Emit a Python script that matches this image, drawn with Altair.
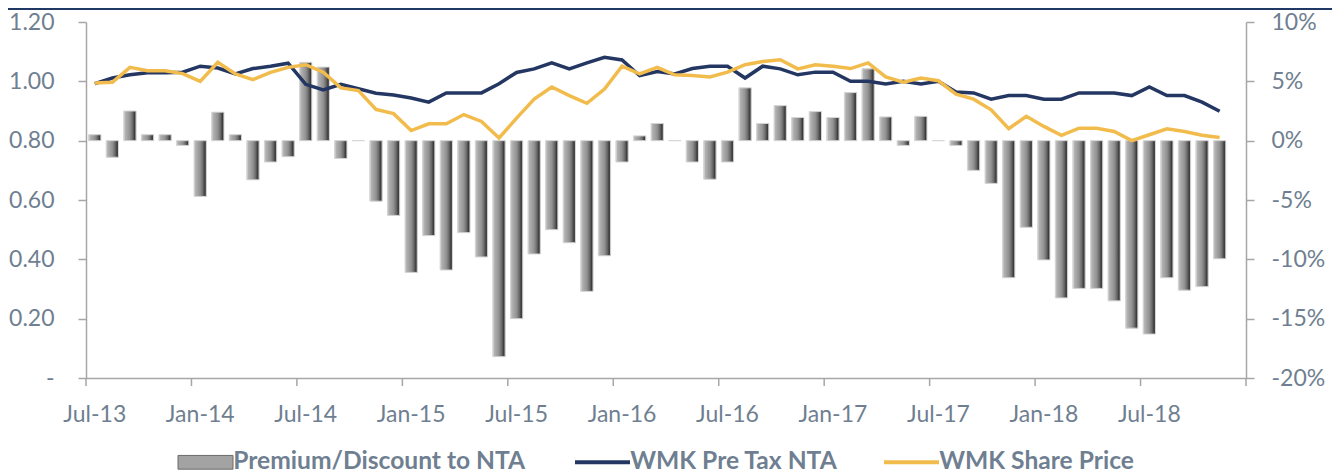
import altair as alt
import pandas as pd

# ---------------- data ----------------
months = [
    "Jul-13", "Aug-13", "Sep-13", "Oct-13", "Nov-13", "Dec-13",
    "Jan-14", "Feb-14", "Mar-14", "Apr-14", "May-14", "Jun-14",
    "Jul-14", "Aug-14", "Sep-14", "Oct-14", "Nov-14", "Dec-14",
    "Jan-15", "Feb-15", "Mar-15", "Apr-15", "May-15", "Jun-15",
    "Jul-15", "Aug-15", "Sep-15", "Oct-15", "Nov-15", "Dec-15",
    "Jan-16", "Feb-16", "Mar-16", "Apr-16", "May-16", "Jun-16",
    "Jul-16", "Aug-16", "Sep-16", "Oct-16", "Nov-16", "Dec-16",
    "Jan-17", "Feb-17", "Mar-17", "Apr-17", "May-17", "Jun-17",
    "Jul-17", "Aug-17", "Sep-17", "Oct-17", "Nov-17", "Dec-17",
    "Jan-18", "Feb-18", "Mar-18", "Apr-18", "May-18", "Jun-18",
    "Jul-18", "Aug-18", "Sep-18", "Oct-18", "Nov-18", "Dec-18",
]
tick_months = ["Jul-13", "Jan-14", "Jul-14", "Jan-15", "Jul-15", "Jan-16",
               "Jul-16", "Jan-17", "Jul-17", "Jan-18", "Jul-18"]
end_month = ["Dec-18"]

premium_pct = [
    0.5, -1.4, 2.5, 0.5, 0.5, -0.4, -4.7, 2.4, 0.5, -3.3,
    -1.8, -1.35, 6.6, 6.2, -1.5, 0.0, -5.1, -6.3, -11.1, -8.0,
    -10.9, -7.75, -9.8, -18.2, -15.0, -9.55, -7.5, -8.6, -12.7, -9.7,
    -1.8, 0.4, 1.45, 0.0, -1.8, -3.25, -1.8, 4.45, 1.45, 2.95,
    1.95, 2.45, 1.95, 4.05, 6.05, 2.0, -0.4, 2.05, 0.0, -0.4,
    -2.5, -3.6, -11.55, -7.3, -10.05, -13.25, -12.45, -12.45, -13.5, -15.8,
    -16.3, -11.55, -12.6, -12.3, -9.95,
]
pre_tax_nta = [
    0.992, 1.011, 1.022, 1.029, 1.029, 1.031, 1.051, 1.045, 1.025, 1.043,
    1.051, 1.061, 0.990, 0.971, 0.990, 0.975, 0.960, 0.954, 0.944, 0.930,
    0.961, 0.961, 0.961, 0.992, 1.030, 1.042, 1.062, 1.042, 1.062, 1.081,
    1.072, 1.019, 1.033, 1.025, 1.043, 1.051, 1.051, 1.011, 1.051, 1.042,
    1.022, 1.031, 1.031, 1.000, 1.000, 0.991, 1.000, 0.991, 1.000, 0.964,
    0.961, 0.940, 0.952, 0.952, 0.940, 0.940, 0.961, 0.961, 0.961, 0.952,
    0.981, 0.952, 0.952, 0.930, 0.899,
]
share_price = [
    0.994, 0.997, 1.047, 1.036, 1.036, 1.026, 1.000, 1.064, 1.025, 1.006,
    1.030, 1.047, 1.056, 1.031, 0.978, 0.969, 0.905, 0.891, 0.834, 0.857,
    0.857, 0.888, 0.865, 0.809, 0.876, 0.940, 0.981, 0.952, 0.926, 0.974,
    1.051, 1.025, 1.047, 1.022, 1.020, 1.015, 1.031, 1.056, 1.067, 1.073,
    1.042, 1.056, 1.051, 1.043, 1.062, 1.015, 0.997, 1.011, 1.002, 0.957,
    0.940, 0.904, 0.840, 0.882, 0.848, 0.818, 0.842, 0.842, 0.831, 0.800,
    0.820, 0.840, 0.831, 0.818, 0.811,
]

bar_name = "Premium/Discount to NTA"
nta_name = "WMK Pre Tax NTA"
price_name = "WMK Share Price"

n = len(premium_pct)
bars_df = pd.DataFrame({
    "month": months[:n],
    "premium": [p / 100.0 for p in premium_pct],
    "bar_series": [bar_name] * n,
})
lines_df = pd.concat([
    pd.DataFrame({"month": months[:n], "value": pre_tax_nta, "series": [nta_name] * n}),
    pd.DataFrame({"month": months[:n], "value": share_price, "series": [price_name] * n}),
], ignore_index=True)
ticks_df = pd.DataFrame({"month": tick_months})
end_df = pd.DataFrame({"month": end_month})

# ---------------- styling ----------------
FONT = "Lato"
LABEL = "#6F7F91"
AXIS_GREY = "#A6A6A6"
NAVY = "#243763"
GOLD = "#F2BC4C"
PLOT_H = 356

X_SCALE = alt.Scale(type="band", domain=months, paddingInner=0, paddingOuter=0)
X_AXIS = alt.Axis(values=tick_months, title=None, labelAngle=0, ticks=False, tickSize=0,
                  labelPadding=25, grid=False, labelOverlap=False)


def x_enc(**kw):
    return alt.X("month:N", sort=months, scale=X_SCALE, axis=X_AXIS, **kw)


y_right = alt.Y(
    "premium:Q",
    scale=alt.Scale(domain=[-0.2, 0.1], nice=False, zero=True),
    axis=alt.Axis(orient="right", values=[-0.2, -0.15, -0.1, -0.05, 0, 0.05, 0.1],
                  labelExpr="round(datum.value * 100) + '%'", title=None, grid=False,
                  tickSize=8, labelPadding=17),
)

y_left = alt.Y(
    "value:Q",
    scale=alt.Scale(domain=[0, 1.2], nice=False),
    axis=alt.Axis(orient="left", values=[0, 0.2, 0.4, 0.6, 0.8, 1.0, 1.2],
                  labelExpr="datum.value == 0 ? '-\u2002' : format(datum.value, '.2f')",
                  title=None, grid=False, tickSize=8, labelPadding=24),
)

bar_gradient = alt.LinearGradient(
    gradient="linear", x1=0, x2=1, y1=0, y2=0,
    stops=[
        alt.GradientStop(offset=0.0, color="#d4d4d4"),
        alt.GradientStop(offset=0.12, color="#b2b2b2"),
        alt.GradientStop(offset=0.5, color="#929292"),
        alt.GradientStop(offset=0.72, color="#6a6a6a"),
        alt.GradientStop(offset=0.88, color="#3b3b3b"),
        alt.GradientStop(offset=1.0, color="#555555"),
    ],
)

bar_legend_layer = alt.Chart(bars_df).mark_bar(width=alt.RelativeBandSize(0.7)).encode(
    x=x_enc(),
    y=y_right,
    fill=alt.Fill(
        "bar_series:N",
        scale=alt.Scale(domain=[bar_name], range=["#a3a3a3"]),
        legend=alt.Legend(
            title=None, orient="none", legendX=92, legendY=428, direction="horizontal",
            symbolType="M-4,-1H4V1H-4Z", symbolSize=189.0625,
            symbolOffset=15.2, labelOffset=15.4,
            symbolStrokeColor="#6a6a6a", symbolStrokeWidth=1,
        ),
    ),
)
bar_shaded_layer = alt.Chart(bars_df).mark_bar(
    width=alt.RelativeBandSize(0.7), fill=bar_gradient, stroke="#d6d6d6", strokeWidth=1
).encode(x=x_enc(), y=y_right)

bars = alt.layer(bar_legend_layer, bar_shaded_layer)

lines = alt.Chart(lines_df).mark_line(strokeWidth=3.5).encode(
    x=x_enc(),
    y=y_left,
    stroke=alt.Stroke(
        "series:N",
        scale=alt.Scale(domain=[nta_name, price_name], range=[NAVY, GOLD]),
        legend=alt.Legend(
            title=None, orient="none", legendX=489, legendY=428, direction="horizontal",
            symbolType="M-4,0H4", symbolSize=189.0625, symbolStrokeWidth=4,
            symbolOffset=15.2, labelOffset=15.4, columnPadding=38,
        ),
    ),
    order=alt.Order("series:N"),
)

# x-axis tick marks at the month boundaries (Excel category-axis style)
tick_marks = alt.Chart(ticks_df).mark_rule(color=AXIS_GREY, strokeWidth=1.5).encode(
    x=x_enc(bandPosition=0), y=alt.value(PLOT_H), y2=alt.value(PLOT_H + 8)
)
end_tick = alt.Chart(end_df).mark_rule(color=AXIS_GREY, strokeWidth=1.5).encode(
    x=x_enc(bandPosition=1), y=alt.value(PLOT_H), y2=alt.value(PLOT_H + 8)
)

top_band = alt.Chart(pd.DataFrame({"k": [0]})).mark_rect(color="#1F3864").encode(
    x=alt.value(-78), x2=alt.value(1246), y=alt.value(-14), y2=alt.value(-12)
)

chart = (
    alt.layer(bars, lines, tick_marks, end_tick, top_band)
    .resolve_scale(y="independent")
    .properties(width=1160, height=PLOT_H, padding=0)
    .configure_view(stroke=None)
    .configure_axis(
        labelFont=FONT, labelFontSize=23, labelColor=LABEL,
        domainColor=AXIS_GREY, tickColor=AXIS_GREY, domainWidth=1.5, tickWidth=1.5,
    )
    .configure_legend(
        labelFont=FONT, labelFontSize=24.6, labelFontWeight="bold", labelColor=LABEL,
        labelLimit=600, padding=0,
    )
)

chart.save("out.html", embed_options={"renderer": "svg", "actions": False})
